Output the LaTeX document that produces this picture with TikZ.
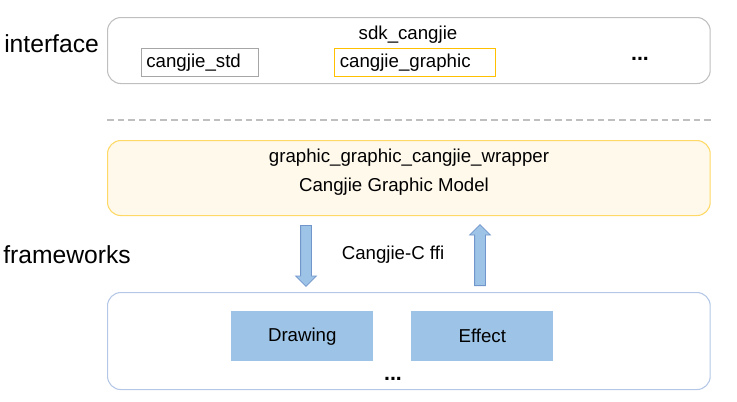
\documentclass[tikz,border=0pt]{standalone}
\usepackage{fontspec}
\setmainfont{Liberation Sans}
\usetikzlibrary{shapes.arrows}
\definecolor{boxgray}{HTML}{BFBFBF}
\definecolor{libgray}{HTML}{A6A6A6}
\definecolor{gold}{HTML}{FFC000}
\definecolor{cream}{HTML}{FFF9EC}
\definecolor{creamline}{HTML}{FFD966}
\definecolor{paleblue}{HTML}{B4C7E7}
\definecolor{modblue}{HTML}{9DC3E6}
\definecolor{arrowline}{HTML}{7096CB}
\tikzset{
  layer/.style  = {rectangle, rounded corners=10pt, draw=boxgray, line width=0.8pt,
                   minimum width=452pt, anchor=north west, inner sep=0pt},
  lib/.style    = {rectangle, draw=libgray, line width=0.6pt, minimum height=21pt,
                   anchor=north west, inner ysep=0pt, inner xsep=3.75pt, align=left,
                   font=\fontsize{14}{16}\selectfont},
  module/.style = {rectangle, fill=modblue, minimum width=106.5pt, minimum height=37.5pt,
                   anchor=north west, font=\fontsize{14}{16}\selectfont},
  txt/.style    = {font=\fontsize{14}{16}\selectfont, inner sep=0pt},
  dots/.style   = {font=\fontsize{16}{18}\selectfont\bfseries, inner sep=0pt},
  side/.style   = {font=\fontsize{18.5}{20}\selectfont, inner sep=0pt, anchor=west},
  ffi/.style    = {single arrow, fill=modblue, draw=arrowline, line width=0.6pt,
                   minimum height=45.75pt, inner xsep=0pt, inner ysep=3.75pt,
                   single arrow head extend=3.75pt, anchor=tail},
}
\begin{document}
\begin{tikzpicture}[x=0.75pt,y=-0.75pt]
  \useasboundingbox (0,0) rectangle (737,401);
  % interface
  \node[side] (iface) at (4,44) {interface};
  \node[layer, minimum height=49.5pt] (sdk) at (107,17) {};
  \node[txt] (sdkname) at (408,35) {sdk\_cangjie};
  \node[lib, text width=80.25pt] (std) at (141,48) {cangjie\_std};
  \node[lib, draw=gold, text width=112.5pt, inner xsep=4.1pt] (graphic) at (334,48) {cangjie\_graphic};
  \node[dots] (more1) at (640,59) {...};

  \draw[boxgray, line width=0.8pt, dash pattern=on 5pt off 3pt] (107,120) -- (712,120);

  % frameworks
  \node[layer, fill=cream, draw=creamline, minimum height=56.25pt] (wrap) at (107,140) {};
  \node[txt] (wrapname) at (409,158) {graphic\_graphic\_cangjie\_wrapper};
  \node[txt] (model) at (394,187) {Cangjie Graphic Model};
  \node[side] (fw) at (3,255) {frameworks};
  \node[ffi, rotate=-90] (down) at (306,225) {};
  \node[ffi, rotate=90] (up) at (480,286) {};
  \node[txt] (cffi) at (393,255) {Cangjie-C ffi};
  \node[layer, draw=paleblue, minimum height=72.75pt] (engine) at (107,292) {};
  \node[module] (drawing) at (231,311) {Drawing};
  \node[module] (effect) at (411,311) {Effect};
  \node[dots] (more2) at (393,379) {...};
\end{tikzpicture}
\end{document}
